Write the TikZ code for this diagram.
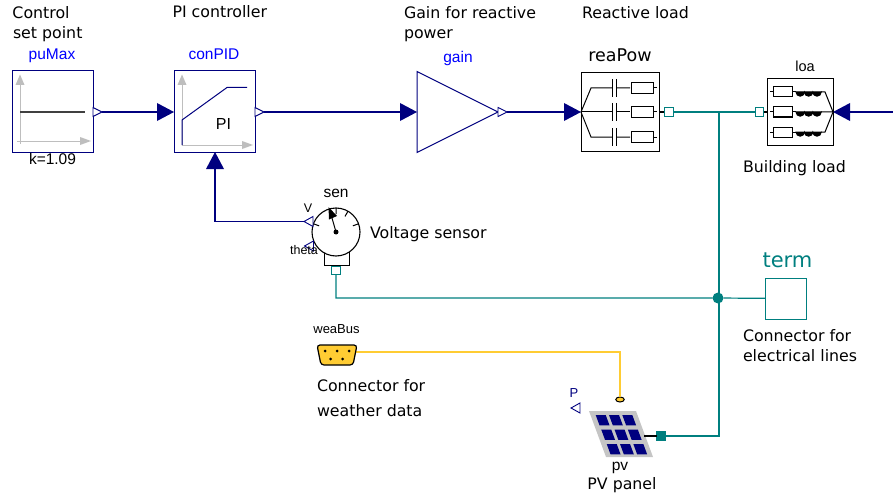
\documentclass[tikz,border=0pt]{standalone}
\usepackage{fontspec}
\setmainfont{DejaVu Sans}
\newfontfamily\arialf{Liberation Sans}
\usetikzlibrary{shapes.geometric}
\definecolor{mnavy}{RGB}{0,0,127}
\definecolor{mteal}{RGB}{0,127,127}
\definecolor{mblue}{RGB}{0,0,255}
\definecolor{myellow}{RGB}{255,204,51}
\definecolor{mgray}{RGB}{190,190,190}
\definecolor{mdark}{RGB}{64,64,64}
\tikzset{
  txt/.style={inner sep=0pt,outer sep=0pt,anchor=base west,font=\fontsize{15.8}{18}\selectfont},
  lbl/.style={inner sep=0pt,outer sep=0pt,anchor=base,font=\arialf\fontsize{15.5}{18}\selectfont},
  blbl/.style={lbl,text=mblue},
  ctl/.style={draw=mnavy,fill=white,line width=1pt,rectangle,inner sep=0pt,outer sep=0pt,minimum size=81pt},
  blk/.style={draw=black,fill=white,line width=1pt,rectangle,inner sep=0pt,outer sep=0pt},
  tri/.style={isosceles triangle,isosceles triangle stretches,inner sep=0pt,outer sep=0pt,anchor=apex},
  inp/.style={tri,fill=mnavy,minimum height=17pt,minimum width=18pt},
  outp/.style={tri,draw=mnavy,fill=white,line width=.9pt,minimum height=9pt,minimum width=9pt},
  elec/.style={rectangle,draw=mteal,fill=white,line width=1.1pt,inner sep=0pt,outer sep=0pt,minimum size=8.5pt},
  sig/.style={draw=mnavy,line width=1.2pt},
  wire/.style={draw=mteal,line width=1.2pt},
  bus/.style={draw=myellow,line width=2.8pt},
  ax/.style={draw=mgray,line width=1pt},
  axh/.style={fill=mgray},
  ink/.style={draw=black,line width=1pt},
}
\begin{document}
\begin{tikzpicture}[x=1pt,y=-1pt]
\useasboundingbox (0,0) rectangle (893,492);
% blocks
\node[ctl] (puMax) at (52.5,111.5) {};
\node[ctl] (conPID) at (214.5,111.5) {};
\node[tri,draw=mnavy,fill=white,line width=1pt,minimum height=81pt,minimum width=81pt] (gain) at (498,112) {};
\node[blk,minimum size=78pt] (reaPow) at (620,112) {};
\node[blk,minimum size=66pt] (loa) at (800,112) {};
\node[blk,draw=mteal,minimum size=41pt] (term) at (785.5,298.5) {};
% ports
\node[outp] (puOut) at (102,112) {};
\node[inp] (conIn) at (174,112) {};
\node[outp] (conOut) at (264,112) {};
\node[inp] (gainIn) at (417,112) {};
\node[outp] (gainOut) at (507,112) {};
\node[inp] (reaIn) at (581,112) {};
\node[inp,shape border rotate=180] (loaIn) at (833,112) {};
\node[inp,shape border rotate=90] (conMeas) at (215,152) {};
\node[elec] (reaTerm) at (669,112) {};
\node[elec] (loaTerm) at (759.5,112) {};
\node[elec] (senTerm) at (336,270.5) {};
\node[rectangle,draw=mteal,fill=mteal,inner sep=0pt,outer sep=0pt,minimum size=9pt] (pvTerm) at (661,436) {};
\node[circle,fill=mteal,inner sep=0pt,outer sep=0pt,minimum size=11pt] (jun) at (718,298) {};
\coordinate (right) at (893,112);
\coordinate (tap) at (719,112);
\coordinate (pvCorner) at (719,436);
\coordinate (senCorner) at (336,298);
\coordinate (busCorner) at (620,352);
\coordinate (weaOut) at (355,352);
% connectors
\draw[sig] (puOut.apex) -- (conIn.lower side);
\draw[sig] (conOut.apex) -- (gainIn.lower side);
\draw[sig] (gainOut.apex) -- (reaIn.lower side);
\draw[sig] (right) -- (loaIn.lower side);
\draw[wire] (reaTerm) -- (loaTerm);
\draw[wire] (tap) -- (pvCorner) -- (pvTerm);
\draw[wire] (senTerm) -- (senCorner) -- (jun) -- (term);
\draw[ink,line width=1.4pt] (reaPow.east) -- (reaTerm.west);
\draw[ink,line width=1.4pt] (loaTerm.east) -- (loa.west);
% redraw ports above wires
\node[elec] at (reaTerm) {};
\node[elec] at (loaTerm) {};
\node[elec] at (senTerm) {};
% puMax icon
\draw[ax] (20,80) -- (20,144);
\draw[ax] (17,141) -- (85,141);
\fill[axh] (20,74.5) -- (15.5,85) -- (24.5,85) -- cycle;
\fill[axh] (91,141) -- (80,137) -- (80,145) -- cycle;
\draw[mdark,line width=1.5pt] (20,112) -- (85,112);
% conPID icon
\draw[ax] (182,80) -- (182,145);
\draw[ax] (182,145) -- (247,145);
\fill[axh] (182,74.5) -- (177.5,85) -- (186.5,85) -- cycle;
\fill[axh] (253,145) -- (242,141) -- (242,149) -- cycle;
\draw[mnavy,line width=1pt] (182,145) -- (182,120) -- (227,87.5) -- (247,87.5);
\node[lbl,font=\arialf\fontsize{16}{18}\selectfont] (piTxt) at (223.5,129) {PI};
% reaPow icon
\begin{scope}[ink]
\draw (reaIn.apex) -- (591,88) -- (612,88) (616,88) -- (630,88);
\draw (reaIn.apex) -- (612,112) (616,112) -- (630,112);
\draw (reaIn.apex) -- (591,137) -- (612,137) (616,137) -- (630,137);
\foreach \y in {88,112,137}{
  \draw[line width=1pt] (612.5,\y-9) -- (612.5,\y+9) (616,\y-9) -- (616,\y+9);
  \draw[line width=1pt] (631,\y-5.5) rectangle (653,\y+5.5);
  \draw (653,\y) -- (657,\y);
}
\end{scope}
% loa icon
\begin{scope}[ink]
\foreach \y in {92,112,132}{
  \draw (770,\y) -- (773,\y);
  \draw[line width=1pt] (773,\y-5) rectangle (792,\y+5);
  \draw (792,\y) -- (796,\y);
  \draw[fill=black,line width=1pt] (796,\y) arc[start angle=180,end angle=0,radius=4.2]
     arc[start angle=180,end angle=0,radius=4.2] arc[start angle=180,end angle=0,radius=4.2] -- cycle;
}
\draw (821,92) -- (825,92) -- (loaIn.apex) -- (821,112);
\draw (821,132) -- (825,132) -- (loaIn.apex);
\end{scope}
% voltage sensor
\draw[ink] (324,250) -- (324,265) -- (349,265) -- (349,250);
\node[circle,draw=black,fill=white,line width=1.1pt,inner sep=0pt,outer sep=0pt,minimum size=48pt] (sen) at (336,232) {};
\draw[ink] (313.4,223.8) -- (319.1,225.8) (336,208) -- (336,214)
  (348,211.2) -- (345,216.4) (358.6,223.8) -- (352.9,225.8);
\draw[ink] (sen.center) -- (332,218);
\fill[black] (328.5,207) -- (337,216) -- (329,219.5) -- cycle;
\fill[black] (sen.center) circle[radius=2.5];
\node[outp,shape border rotate=180,minimum height=9pt,minimum width=10pt] (senV) at (304,221.5) {};
\node[outp,shape border rotate=180,minimum height=9pt,minimum width=10pt] (senTh) at (304.5,246) {};
\draw[sig] (senV.apex) -| (conMeas.lower side);
% PV panel
\node[ellipse,draw=black,fill=myellow,line width=1pt,inner sep=0pt,outer sep=0pt,minimum width=8.5pt,minimum height=5pt] (pvPort) at (620,399.5) {};
% weather bus
\draw[bus] (weaOut) -- (busCorner) -- (pvPort.north);
\draw[black,fill=myellow,line width=1.2pt,rounded corners=3pt] (317,345) -- (357,345) -- (353,365) -- (321,365) -- cycle;
\foreach \px/\py in {325/351,337/351,349/351,330.5/359,342.5/359}{
  \fill[black] (\px,\py) circle[radius=1.5];
}
\fill[mgray!90!white] (589,411) -- (636,411) -- (653,457) -- (606,457) -- cycle;
\foreach \r in {0,1,2}{
  \foreach \c in {0,1,2}{
    \pgfmathsetmacro{\yy}{415+14.5*\r}
    \pgfmathsetmacro{\xx}{595.7+(\yy-415)*0.38+13.3*\c}
    \fill[mnavy] (\xx,\yy) -- (\xx+10,\yy) -- (\xx+13.8,\yy+10.3) -- (\xx+3.8,\yy+10.3) -- cycle;
  }
}
\coordinate (pvOut) at (644,436);
\draw[ink,line width=1.3pt] (pvOut) -- (pvTerm);
\node[outp,shape border rotate=180,minimum height=9pt,minimum width=10pt] (pvP) at (571,408) {};
% texts
\node[txt] (t1) at (12.5,19) {Control};
\node[txt] (t2) at (13,39) {set point};
\node[txt] (t3) at (172.5,17.5) {PI controller};
\node[txt] (t4) at (404,19) {Gain for reactive};
\node[txt] (t5) at (404,39) {power};
\node[txt] (t6) at (582,19) {Reactive load};
\node[txt] (t7) at (743,172) {Building load};
\node[txt] (t8) at (370,238) {Voltage sensor};
\node[txt] (t9) at (743,341) {Connector for};
\node[txt] (t10) at (743,361) {electrical lines};
\node[txt] (t11) at (317,391) {Connector for};
\node[txt] (t12) at (317,416) {weather data};
\node[txt,anchor=base] (t13) at (622,489) {PV panel};
\node[blbl] at (52,59.5) {puMax};
\node[blbl] at (214,59.5) {conPID};
\node[blbl] at (458,63) {gain};
\node[lbl] at (52.5,164) {k=1.09};
\node[lbl,font=\fontsize{17.5}{20}\selectfont] at (620,62) {reaPow};
\node[lbl,font=\arialf\fontsize{14.5}{18}\selectfont] at (805,72) {loa};
\node[lbl] at (336,197) {sen};
\node[lbl,font=\arialf\fontsize{12.5}{15}\selectfont] at (308,212.5) {V};
\node[lbl,font=\arialf\fontsize{12.5}{15}\selectfont] at (304,254) {theta};
\node[lbl,text=mteal,font=\fontsize{21}{24}\selectfont] at (787.5,267) {term};
\node[lbl,font=\arialf\fontsize{13}{15}\selectfont] at (336.5,333) {weaBus};
\node[lbl,text=mnavy,font=\arialf\fontsize{13}{15}\selectfont] at (574,397) {P};
\node[lbl] at (620,470) {pv};
\end{tikzpicture}
\end{document}
